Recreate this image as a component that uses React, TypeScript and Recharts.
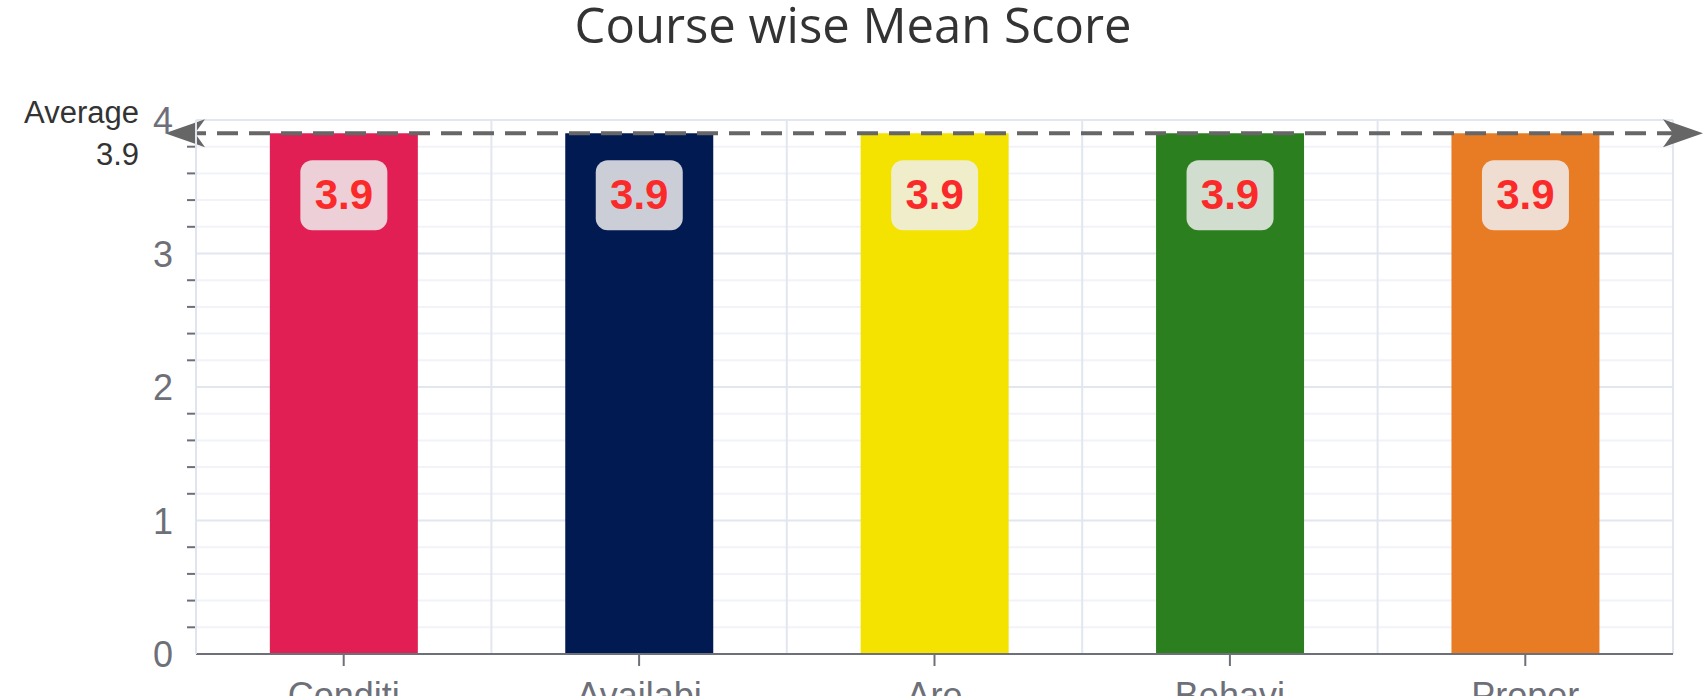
import { BarChart, Bar, XAxis, YAxis, CartesianGrid, ReferenceLine, LabelList, Cell } from 'recharts'

const categories = ['Conditi', 'Availabi', 'Are', 'Behavi', 'Proper']
const meanScores = [3.9, 3.9, 3.9, 3.9, 3.9]
const barColors = ['#e11f54', '#011a51', '#f4e200', '#2c7f1e', '#e87c25']
const averageScore = 3.9

const yTicks = [0, 0.2, 0.4, 0.6, 0.8, 1, 1.2, 1.4, 1.6, 1.8, 2, 2.2, 2.4, 2.6, 2.8, 3, 3.2, 3.4, 3.6, 3.8, 4]
const majorTicks = [0, 1, 2, 3, 4]
const minorTicks = yTicks.filter((t) => !majorTicks.includes(t))
// vertical grid lines sit on the band boundaries (after each category)
const boundaries = [1, 2, 3, 4, 5]

const data = categories.map((name, i) => ({ name, score: meanScores[i] }))

const tickColor = '#6e7079'
const sans = '"Liberation Sans", Arial, Helvetica, sans-serif'

const YTick = (props: any) => {
  const { x, y, payload } = props
  if (Number.isInteger(payload.value)) {
    return (
      <text x={x - 23} y={y} dy={13} textAnchor="end" fill={tickColor} fontSize={36} fontFamily={sans}>
        {payload.value}
      </text>
    )
  }
  return <line x1={x - 9} x2={x - 1} y1={y} y2={y} stroke={tickColor} strokeWidth={2} />
}

const ScoreLabel = (props: any) => {
  const { x, y, width, value } = props
  const cx = x + width / 2
  return (
    <g>
      <rect x={cx - 43.5} y={y + 27} width={87} height={70} rx={12} ry={12} fill="rgba(238,238,238,0.85)" />
      <text x={cx} y={y + 76} textAnchor="middle" fill="#fb2a2a" fontSize={42} fontWeight="bold" fontFamily={sans}>
        {value}
      </text>
    </g>
  )
}

const AverageLine = (props: any) => {
  const { x1, x2, y1 } = props
  const y = y1
  const left = x1 - 31
  const right = x2 + 30
  return (
    <g>
      <line x1={left + 20} x2={right - 20} y1={y} y2={y} stroke="#666" strokeWidth={4} strokeDasharray="21 11" />
      <path d={`M${left} ${y} L${left + 40} ${y - 14} L${left + 30} ${y} L${left + 40} ${y + 14} Z`} fill="#666" />
      <path d={`M${right} ${y} L${right - 40} ${y - 14} L${right - 30} ${y} L${right - 40} ${y + 14} Z`} fill="#666" />
      <text x={139} y={y - 10} textAnchor="end" fill="#333" fontSize={31} fontFamily={sans}>
        Average
      </text>
      <text x={139} y={y + 32} textAnchor="end" fill="#333" fontSize={31} fontFamily={sans}>
        {averageScore}
      </text>
    </g>
  )
}

const bandBoundaries = ({ offset }: any) =>
  boundaries.map((b) => offset.left + (b * offset.width) / categories.length)

export default function App() {
  return (
    <div style={{ position: 'absolute', left: 0, top: 0, width: 1704, height: 696, background: '#fff' }}>
      <BarChart
        width={1704}
        height={696}
        data={data}
        margin={{ top: 120, right: 31, left: 136, bottom: 0 }}
        barCategoryGap="25%"
      >
        <CartesianGrid vertical={false} horizontalValues={minorTicks} stroke="#f1f3f9" strokeWidth={2} />
        <CartesianGrid
          horizontalValues={majorTicks}
          verticalCoordinatesGenerator={bandBoundaries}
          stroke="#e2e6ef"
          strokeWidth={2}
        />
        <XAxis
          dataKey="name"
          interval={0}
          height={42}
          tickSize={12}
          tickMargin={16}
          tick={{ fill: tickColor, fontSize: 36, fontFamily: sans }}
          tickLine={{ stroke: tickColor, strokeWidth: 2 }}
          axisLine={{ stroke: tickColor, strokeWidth: 2 }}
        />
        <YAxis
          type="number"
          domain={[0, 4]}
          ticks={yTicks}
          interval={0}
          width={60}
          tickSize={0}
          tickMargin={0}
          tickLine={false}
          tick={<YTick />}
          axisLine={{ stroke: '#dfe4ee', strokeWidth: 2 }}
        />
        <Bar dataKey="score" isAnimationActive={false}>
          {data.map((d, i) => (
            <Cell key={d.name} fill={barColors[i]} />
          ))}
          <LabelList dataKey="score" content={<ScoreLabel />} />
        </Bar>
        <ReferenceLine y={averageScore} shape={<AverageLine />} />
      </BarChart>
      <svg width={1704} height={70} style={{ position: 'absolute', left: 0, top: 0, pointerEvents: 'none' }}>
        <text x={853} y={43} textAnchor="middle" fill="#333" fontSize={49} fontFamily='"Open Sans", sans-serif'>
          Course wise Mean Score
        </text>
      </svg>
    </div>
  )
}
